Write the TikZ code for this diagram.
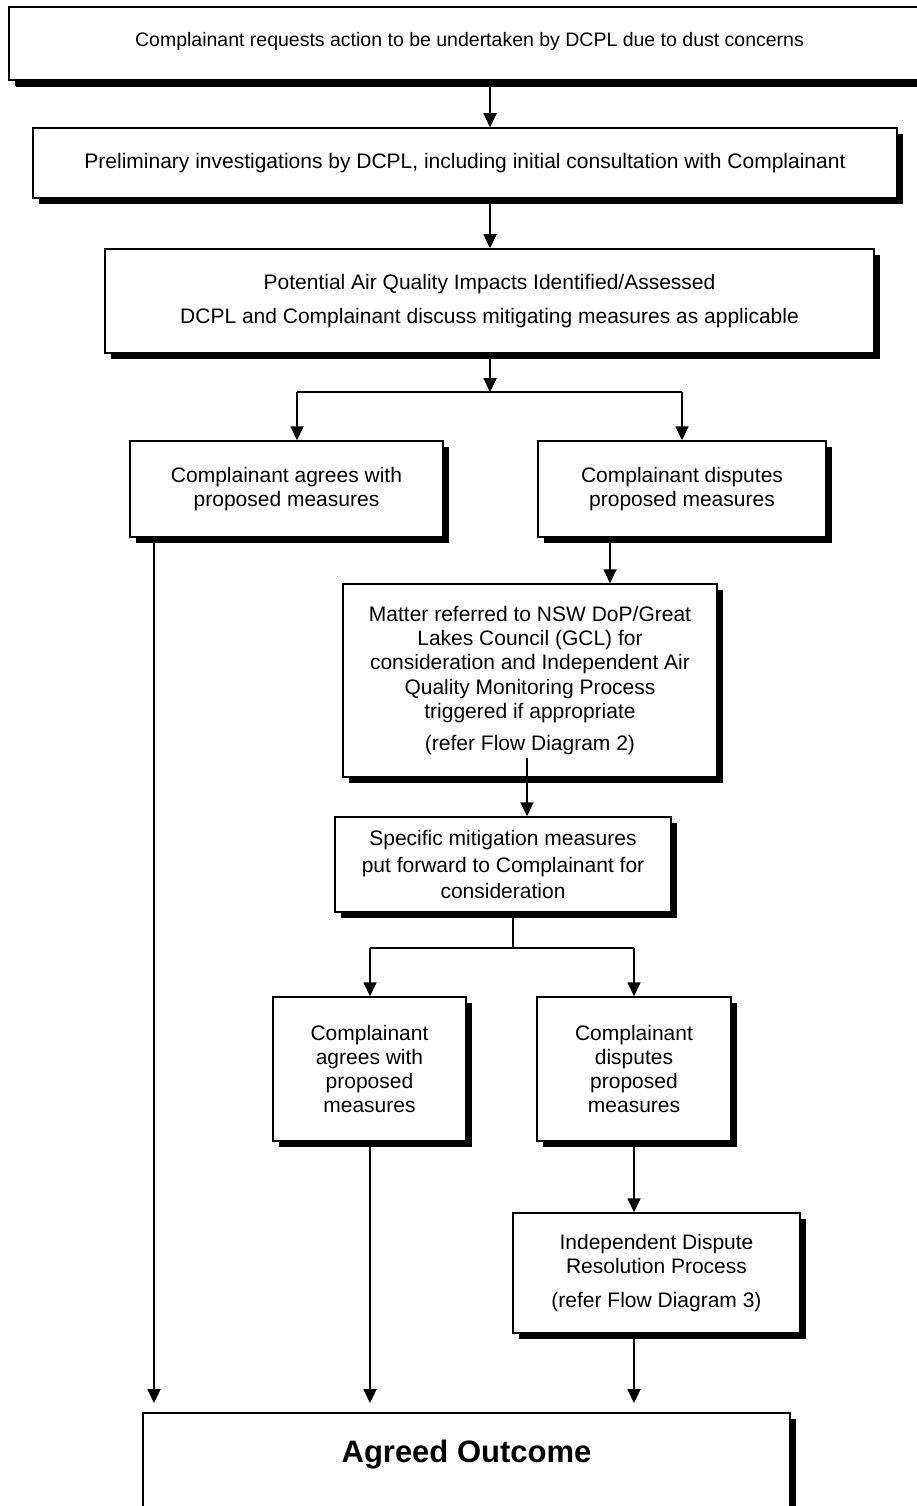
\documentclass[tikz,border=0pt]{standalone}
\usepackage{fontspec}
\setmainfont{Liberation Sans}
\usetikzlibrary{arrows.meta,shadows}
\begin{document}
\begin{tikzpicture}[x=1pt,y=-1pt,
  box/.style={draw=black, line width=1.5pt, fill=white, inner sep=0pt, align=center,
    font=\fontsize{21}{24.2}\selectfont,
    drop shadow={shadow xshift=6pt, shadow yshift=-6pt, fill=black, opacity=1}},
  conn/.style={line width=1.8pt},
  arr/.style={conn, -{Triangle[length=14pt,width=13pt]}}]
\useasboundingbox (0,0) rectangle (917,1506);
\clip (0,0) rectangle (917,1506);

% boxes
\node[box, minimum width=921pt, minimum height=73pt, text depth=8pt,
  font=\fontsize{19.5}{23}\selectfont,
  drop shadow={shadow xshift=7pt, shadow yshift=-7pt, fill=black, opacity=1}] (b1) at (469.5,43.5)
  {Complainant requests action to be undertaken by DCPL due to dust concerns};
\node[box, minimum width=864pt, minimum height=70pt] (b2) at (465,163)
  {Preliminary investigations by DCPL, including initial consultation with Complainant};
\node[box, minimum width=769pt, minimum height=104pt] (b3) at (489.5,301)
  {Potential Air Quality Impacts Identified/Assessed\\[9pt]DCPL and Complainant discuss mitigating measures as applicable};
\node[box, minimum width=313pt, minimum height=96pt] (b4) at (286.5,489)
  {Complainant agrees with\\proposed measures};
\node[box, minimum width=288pt, minimum height=96pt] (b5) at (682,489)
  {Complainant disputes\\proposed measures};
\node[box, minimum width=374pt, minimum height=193pt] (b6) at (530,680.5)
  {Matter referred to NSW DoP/Great\\Lakes Council (GCL) for\\consideration and Independent Air\\Quality Monitoring Process\\triggered if appropriate\\[8pt](refer Flow Diagram 2)};
\node[box, minimum width=336pt, minimum height=95pt] (b7) at (503,864.5)
  {Specific mitigation measures\\[2pt]put forward to Complainant for\\[2pt]consideration};
\node[box, minimum width=193pt, minimum height=144pt] (b8) at (369.5,1069)
  {Complainant\\agrees with\\proposed\\measures};
\node[box, minimum width=194pt, minimum height=144pt] (b9) at (634,1069)
  {Complainant\\disputes\\proposed\\measures};
\node[box, minimum width=287pt, minimum height=120pt] (b10) at (656.5,1273)
  {Independent Dispute\\Resolution Process\\[9pt](refer Flow Diagram 3)};
\node[box, minimum width=647pt, anchor=north, inner ysep=27pt, text height=23pt, text depth=100pt,
  font=\fontsize{31}{36}\selectfont\bfseries] (b11) at (466.5,1412) {Agreed Outcome};

% x positions of connectors
\coordinate (xa) at (490,0);
\coordinate (xl) at (297,0);
\coordinate (xr) at (682,0);
\coordinate (xf) at (154,0);
\coordinate (xd) at (610,0);
\coordinate (xm) at (513,0);
\coordinate (xml) at (370,0);
\coordinate (xmr) at (634,0);
\coordinate (j1) at (490,392);
\coordinate (j2) at (513,948);
\coordinate (s6) at (527,758);

\draw[arr] (b1.south -| xa) -- (b2.north -| xa);
\draw[arr] (b2.south -| xa) -- (b3.north -| xa);
\draw[arr] (b3.south -| xa) -- (j1);
\draw[conn] (xl |- j1) -- (xr |- j1);
\draw[arr] (xl |- j1) -- (b4.north -| xl);
\draw[arr] (xr |- j1) -- (b5.north -| xr);
\draw[arr, shorten >=9pt] (b4.south -| xf) -- (b11.north -| xf);
\draw[arr] (b5.south -| xd) -- (b6.north -| xd);
\draw[arr] (s6) -- (b7.north -| s6);
\draw[conn] (b7.south -| xm) -- (j2);
\draw[conn] (xml |- j2) -- (xmr |- j2);
\draw[arr] (xml |- j2) -- (b8.north -| xml);
\draw[arr] (xmr |- j2) -- (b9.north -| xmr);
\draw[arr, shorten >=9pt] (b8.south -| xml) -- (b11.north -| xml);
\draw[arr] (b9.south -| xmr) -- (b10.north -| xmr);
\draw[arr, shorten >=9pt] (b10.south -| xmr) -- (b11.north -| xmr);
\end{tikzpicture}
\end{document}
